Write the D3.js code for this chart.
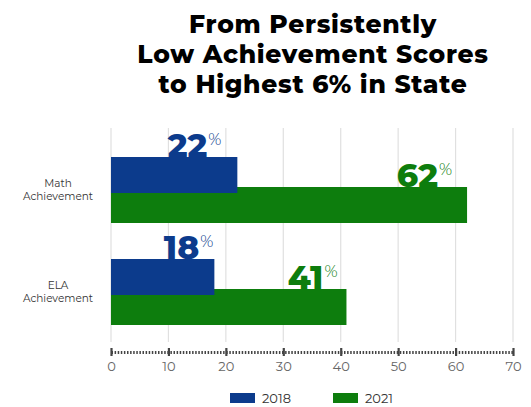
<!DOCTYPE html>
<html>
<head>
<meta charset="utf-8">
<script src="https://cdn.jsdelivr.net/npm/d3@7"></script>
<style>
  body { margin: 0; background: #fff; }
  svg { display: block; }
</style>
</head>
<body>
<div id="chart"></div>
<script>
// chart data
const categories = ["Math Achievement", "ELA Achievement"];
const years = ["2018", "2021"];
const values2018 = [22, 18];
const values2021 = [62, 41];
const xTicks = [0, 10, 20, 30, 40, 50, 60, 70];
const titleLines = ["From Persistently", "Low Achievement Scores", "to Highest 6% in State"];

const width = 531, height = 407;
const blue = "#0c3b8c", green = "#0d7d0d";
const font = "Montserrat, 'DejaVu Sans', sans-serif";

const svg = d3.select("#chart").append("svg")
    .attr("width", width)
    .attr("height", height);

// title
svg.append("g").selectAll("text")
    .data(titleLines)
    .enter().append("text")
    .attr("x", 313)
    .attr("y", function (d, i) { return 33 + i * 30; })
    .attr("text-anchor", "middle")
    .style("font-family", font)
    .style("font-weight", "800")
    .style("font-size", "25px")
    .style("letter-spacing", "0.7px")
    .style("fill", "#000")
    .text(function (d) { return d; });

// scales
const x = d3.scaleLinear().domain([0, 70]).range([111, 513]);
const y = d3.scaleBand().domain(categories).range([139, 343]);

// gridlines
svg.append("g").selectAll("line")
    .data(xTicks)
    .enter().append("line")
    .attr("x1", function (d) { return x(d); })
    .attr("x2", function (d) { return x(d); })
    .attr("y1", 128)
    .attr("y2", 342)
    .attr("stroke", "#e0e0e0")
    .attr("stroke-width", 1.2);

// axis: dotted line with small ticks
const axisY = 352;
const axis = svg.append("g")
    .attr("transform", "translate(0," + axisY + ")")
    .call(d3.axisBottom(x).tickValues(xTicks).tickSize(0).tickPadding(10));
axis.select(".domain")
    .attr("stroke", "#444")
    .attr("stroke-width", 3)
    .attr("stroke-dasharray", "1.5,1.6");
axis.selectAll(".tick").append("line")
    .attr("y1", -4).attr("y2", 4)
    .attr("stroke", "#444")
    .attr("stroke-width", 2.2);
axis.selectAll(".tick text")
    .style("font-family", font)
    .style("font-size", "13px")
    .style("font-weight", "400")
    .style("fill", "#666");

// category labels
const catG = svg.append("g");
categories.forEach(function (c) {
    const cy = y(c) + y.bandwidth() / 2;
    const words = c.split(" ");
    catG.append("text")
        .attr("x", 58)
        .attr("y", cy - 3)
        .attr("text-anchor", "middle")
        .style("font-family", font)
        .style("font-size", "10.5px")
        .style("fill", "#333")
        .selectAll("tspan")
        .data(words)
        .enter().append("tspan")
        .attr("x", 58)
        .attr("dy", function (d, i) { return i === 0 ? 0 : 13; })
        .text(function (d) { return d; });
});

// bars (2021 drawn first so 2018 overlaps it)
const barH = 36;
svg.append("g").selectAll("rect")
    .data(values2021)
    .enter().append("rect")
    .attr("x", x(0))
    .attr("y", function (d, i) { return y(categories[i]) + y.bandwidth() / 2 - 3; })
    .attr("width", function (d) { return x(d) - x(0); })
    .attr("height", barH)
    .attr("fill", green);

svg.append("g").selectAll("rect")
    .data(values2018)
    .enter().append("rect")
    .attr("x", x(0))
    .attr("y", function (d, i) { return y(categories[i]) + y.bandwidth() / 2 - 33; })
    .attr("width", function (d) { return x(d) - x(0); })
    .attr("height", barH)
    .attr("fill", blue);

// value labels: big number + small percent sign
function valueLabels(vals, color, topOff, nudge) {
    vals.forEach(function (v, i) {
        const base = y(categories[i]) + y.bandwidth() / 2 + topOff;
        const t = svg.append("text")
            .attr("x", x(v) - nudge[i])
            .attr("y", base)
            .attr("text-anchor", "end")
            .style("font-family", font)
            .style("fill", color);
        t.append("tspan")
            .style("font-size", "33px")
            .style("font-weight", "800")
            .text(v);
        t.append("tspan")
            .attr("dy", -12)
            .attr("dx", 1)
            .style("font-size", "16px")
            .style("font-weight", "300")
            .text("%");
    });
}
valueLabels(values2018, blue, -33, [16, 1]);
valueLabels(values2021, green, -3, [15, 9]);

// legend
const leg = svg.append("g");
years.forEach(function (yr, i) {
    const lx = 230 + i * 103;
    leg.append("rect")
        .attr("x", lx).attr("y", 393)
        .attr("width", 25).attr("height", 10)
        .attr("fill", i === 0 ? blue : green);
    leg.append("text")
        .attr("x", lx + 32).attr("y", 403)
        .style("font-family", font)
        .style("font-size", "13px")
        .style("fill", "#333")
        .text(yr);
});
</script>
</body>
</html>
